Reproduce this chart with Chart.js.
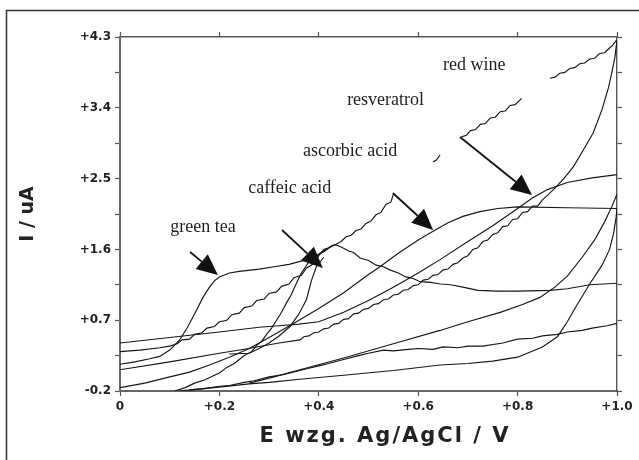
<!DOCTYPE html>
<html lang="en">
<head>
<meta charset="UTF-8">
<title>Cyclic voltammograms</title>
<script src="https://cdn.jsdelivr.net/npm/chart.js"></script>
<style>
  html, body { margin: 0; padding: 0; background: #fff; }
</style>
</head>
<body>
<canvas id="cv" width="639" height="460"></canvas>
<script>
// axis ticks
const xTicks = [0, 0.2, 0.4, 0.6, 0.8, 1.0];
const xTickLabels = ['0', '+0.2', '+0.4', '+0.6', '+0.8', '+1.0'];
const yTicks = [-0.2, 0.25, 0.7, 1.15, 1.6, 2.05, 2.5, 2.95, 3.4, 3.85, 4.3];
const yTickLabels = ['-0.2', '', '+0.7', '', '+1.6', '', '+2.5', '', '+3.4', '', '+4.3'];
const xTitle = 'E wzg. Ag/AgCl / V';
const yTitle = 'I / uA';

// scans as [E (V), I (uA)]
const greenTea = [[0,0.14],[0.03,0.17],[0.06,0.21],[0.08,0.24],[0.1,0.32],[0.12,0.45],[0.135,0.6],[0.15,0.78],
  [0.167,0.99],[0.18,1.12],[0.19,1.2],[0.2,1.25],[0.22,1.3],[0.24,1.32],[0.28,1.35],[0.31,1.38],[0.34,1.41],
  [0.37,1.46],[0.39,1.5],[0.41,1.57],[0.425,1.64],[0.433,1.66],[0.445,1.63],[0.46,1.58],[0.47,1.56],[0.483,1.49],
  [0.5,1.46],[0.515,1.4],[0.53,1.38],[0.543,1.34],[0.56,1.3],[0.575,1.25],[0.59,1.23],[0.604,1.19],[0.625,1.18],
  [0.645,1.16],[0.665,1.15],[0.69,1.12],[0.72,1.08],[0.76,1.07],[0.8,1.07],[0.865,1.08],[0.9,1.1],[0.946,1.15],[1.0,1.17]];

const redWineFwd = [[0,0.30],[0.04,0.32],[0.08,0.35],[0.1,0.37],[0.115,0.4],[0.125,0.45],[0.14,0.46],[0.15,0.52],
  [0.165,0.54],[0.175,0.6],[0.19,0.62],[0.2,0.68],[0.215,0.7],[0.225,0.77],[0.24,0.79],[0.25,0.86],[0.265,0.88],
  [0.275,0.95],[0.29,0.97],[0.3,1.04],[0.315,1.06],[0.325,1.13],[0.34,1.16],[0.35,1.24],[0.365,1.27],[0.375,1.36],
  [0.39,1.42],[0.4,1.52],[0.41,1.6],[0.42,1.62],[0.433,1.66],[0.445,1.7],[0.455,1.76],[0.465,1.78],[0.475,1.84],
  [0.485,1.86],[0.495,1.93],[0.505,1.96],[0.515,2.04],[0.525,2.07],[0.535,2.17],[0.545,2.2],[0.55,2.3],
  [0.59,null],[0.63,2.71],[0.637,2.74],[0.644,2.8],[0.665,null],
  [0.687,3.03],[0.697,3.05],[0.705,3.11],[0.715,3.12],[0.725,3.19],[0.735,3.2],[0.745,3.27],[0.755,3.28],
  [0.765,3.35],[0.775,3.36],[0.785,3.43],[0.795,3.44],[0.808,3.52],[0.835,null],
  [0.865,3.775],[0.875,3.79],[0.885,3.84],[0.895,3.85],[0.905,3.9],[0.915,3.91],[0.925,3.96],[0.935,3.97],
  [0.945,4.02],[0.955,4.03],[0.965,4.09],[0.975,4.1],[0.985,4.16],[0.992,4.2],[0.999,4.26]];

const redWineRev = [[1.0,4.26],[0.996,4.05],[0.99,3.86],[0.983,3.66],[0.97,3.38],[0.952,3.08],[0.932,2.86],
  [0.912,2.65],[0.893,2.5],[0.875,2.38],[0.862,2.3],[0.85,2.23],[0.84,2.15],[0.83,2.15],[0.82,2.08],[0.81,2.07],
  [0.80,1.99],[0.79,1.98],[0.78,1.90],[0.77,1.89],[0.76,1.81],[0.75,1.79],[0.74,1.72],[0.73,1.70],[0.72,1.62],
  [0.71,1.60],[0.70,1.52],[0.69,1.49],[0.68,1.43],[0.67,1.41],[0.66,1.35],[0.65,1.34],[0.64,1.28],[0.63,1.27],
  [0.62,1.22],[0.61,1.21],[0.60,1.15],[0.59,1.14],[0.58,1.09],[0.57,1.08],[0.56,1.03],[0.55,1.02],[0.54,0.97],
  [0.53,0.96],[0.52,0.91],[0.51,0.90],[0.50,0.85],[0.49,0.84],[0.48,0.79],[0.47,0.78],[0.46,0.72],[0.45,0.71],
  [0.44,0.66],[0.43,0.65],[0.42,0.60],[0.41,0.59],[0.40,0.55],[0.39,0.54],[0.38,0.50],[0.37,0.49],[0.362,0.45],
  [0.32,0.41],[0.25,0.33],[0.2,0.28],[0.1,0.17],[0,0.07]];

const resveratrol = [[0,0.41],[0.1,0.48],[0.2,0.55],[0.28,0.61],[0.32,0.63],[0.36,0.65],[0.4,0.68],[0.45,0.8],
  [0.5,0.95],[0.55,1.12],[0.6,1.3],[0.644,1.47],[0.7,1.7],[0.75,1.9],[0.8,2.12],[0.829,2.25],[0.86,2.36],
  [0.9,2.45],[0.95,2.51],[1.0,2.55]];

const ascorbicFwd = [[0,-0.157],[0.05,-0.1],[0.094,-0.03],[0.14,0.04],[0.18,0.13],[0.22,0.23],[0.26,0.34],
  [0.3,0.48],[0.35,0.66],[0.4,0.85],[0.45,1.05],[0.5,1.28],[0.523,1.38],[0.56,1.55],[0.6,1.72],[0.63,1.83],
  [0.66,1.94],[0.69,2.02],[0.724,2.08],[0.76,2.12],[0.8,2.14],[0.9,2.13],[1.0,2.12]];

const ascorbicRev = [[1.0,2.12],[0.998,2.0],[0.993,1.8],[0.985,1.6],[0.97,1.4],[0.946,1.17],[0.92,0.9],
  [0.9,0.68],[0.88,0.49],[0.85,0.36],[0.8,0.23],[0.75,0.18],[0.7,0.15],[0.644,0.13],[0.55,0.06],[0.45,0.0],
  [0.362,-0.05],[0.3,-0.09],[0.26,-0.11],[0.2,-0.15],[0.15,-0.18],[0.12,-0.2]];

const caffeicFwd = [[0.11,-0.2],[0.13,-0.16],[0.15,-0.1],[0.17,-0.06],[0.19,0.0],[0.2,0.03],[0.215,0.1],
  [0.23,0.15],[0.24,0.2],[0.25,0.25],[0.265,0.3],[0.275,0.38],[0.285,0.43],[0.295,0.52],[0.305,0.6],
  [0.315,0.7],[0.325,0.8],[0.335,0.92],[0.345,1.03],[0.355,1.17],[0.365,1.3],[0.38,1.44],[0.395,1.52],
  [0.41,1.58],[0.425,1.64],[0.433,1.66]];

const caffeicRev = [[0.41,1.5],[0.395,1.38],[0.385,1.2],[0.375,0.96],[0.36,0.78],[0.342,0.62],[0.32,0.5],
  [0.3,0.41],[0.28,0.34],[0.26,0.28],[0.22,0.27]];

const baselineNoisy = [[0.14,-0.19],[0.17,-0.17],[0.2,-0.14],[0.22,-0.13],[0.25,-0.09],[0.27,-0.07],[0.3,-0.02],
  [0.33,0.01],[0.362,0.06],[0.38,0.09],[0.4,0.12],[0.42,0.15],[0.45,0.2],[0.48,0.25],[0.5,0.28],[0.53,0.32],
  [0.55,0.31],[0.58,0.33],[0.6,0.34],[0.63,0.33],[0.65,0.36],[0.68,0.35],[0.7,0.37],[0.73,0.37],[0.77,0.41],
  [0.8,0.46],[0.83,0.47],[0.85,0.5],[0.88,0.52],[0.9,0.55],[0.93,0.57],[0.95,0.6],[0.98,0.63],[1.0,0.66]];

const baselineRise = [[0.26,-0.1],[0.31,-0.02],[0.362,0.07],[0.45,0.22],[0.55,0.4],[0.644,0.57],[0.7,0.68],
  [0.765,0.8],[0.81,0.9],[0.845,0.99],[0.875,1.12],[0.9,1.26],[0.93,1.5],[0.955,1.72],[0.975,1.95],
  [0.99,2.15],[1.0,2.3]];

const scans = [greenTea, redWineFwd, redWineRev, resveratrol, ascorbicFwd, ascorbicRev,
  caffeicFwd, caffeicRev, baselineNoisy, baselineRise];

// annotations: sample names and arrows, in data units
const labelText = ['red wine', 'resveratrol', 'ascorbic acid', 'caffeic acid', 'green tea'];
const labelE = [0.65, 0.457, 0.368, 0.258, 0.101];
const labelI = [3.944, 3.499, 2.851, 2.381, 1.885];
const arrowFrom = [[0.684, 3.029], [0.549, 2.317], [0.326, 1.847], [0.141, 1.567]];
const arrowTo = [[0.829, 2.292], [0.63, 1.847], [0.408, 1.364], [0.197, 1.275]];

const tickFont = { family: 'DejaVu Sans', weight: 'bold', size: 12 };
const titleFont = { family: 'DejaVu Sans', weight: 'bold', size: 19 };

const annotate = {
  id: 'annotate',
  afterDatasetsDraw(chart) {
    const { ctx, scales: { x, y } } = chart;
    ctx.save();
    ctx.fillStyle = '#1e1e1e';
    ctx.font = '18px "Liberation Serif", "Times New Roman", serif';
    ctx.textBaseline = 'middle';
    labelText.forEach((t, i) => {
      ctx.fillText(t, x.getPixelForValue(labelE[i]), y.getPixelForValue(labelI[i]));
    });
    ctx.strokeStyle = '#111';
    ctx.fillStyle = '#111';
    ctx.lineWidth = 1.8;
    arrowFrom.forEach((f, i) => {
      const x0 = x.getPixelForValue(f[0]), y0 = y.getPixelForValue(f[1]);
      const x1 = x.getPixelForValue(arrowTo[i][0]), y1 = y.getPixelForValue(arrowTo[i][1]);
      const a = Math.atan2(y1 - y0, x1 - x0);
      const len = 21, half = 9.5;
      const bx = x1 - len * Math.cos(a), by = y1 - len * Math.sin(a);
      ctx.beginPath();
      ctx.moveTo(x0, y0);
      ctx.lineTo(bx, by);
      ctx.stroke();
      ctx.beginPath();
      ctx.moveTo(x1, y1);
      ctx.lineTo(bx + half * Math.sin(a), by - half * Math.cos(a));
      ctx.lineTo(bx - half * Math.sin(a), by + half * Math.cos(a));
      ctx.closePath();
      ctx.fill();
    });
    ctx.restore();
  },
  afterDraw(chart) {
    const { ctx, chartArea } = chart;
    ctx.save();
    // potential axis title, spaced out under the axis
    ctx.fillStyle = '#222';
    ctx.font = 'bold 21px "DejaVu Sans"';
    ctx.letterSpacing = '2px';
    ctx.textAlign = 'center';
    ctx.textBaseline = 'middle';
    ctx.fillText(xTitle, chartArea.left + 265, 437);
    // outer frame of the figure
    ctx.strokeStyle = '#333';
    ctx.lineWidth = 1.5;
    ctx.beginPath();
    ctx.moveTo(6.5, 460);
    ctx.lineTo(6.5, 10.5);
    ctx.lineTo(639, 10.5);
    ctx.stroke();
    ctx.restore();
  }
};

const setTicks = vals => scale => { scale.ticks = vals.map(v => ({ value: v })); };

new Chart(document.getElementById('cv'), {
  type: 'scatter',
  data: {
    datasets: scans.map(s => ({
      data: s.map(p => ({ x: p[0], y: p[1] })),
      showLine: true,
      borderColor: '#161616',
      borderWidth: 1.15,
      pointRadius: 0,
      spanGaps: false
    }))
  },
  options: {
    responsive: false,
    animation: false,
    layout: { padding: { left: 0, right: 22, top: 37, bottom: 0 } },
    plugins: { legend: { display: false }, tooltip: { enabled: false } },
    scales: {
      x: {
        type: 'linear', position: 'bottom', min: 0, max: 1,
        afterBuildTicks: setTicks(xTicks),
        afterFit: s => { s.height = 69; },
        ticks: { autoSkip: false, maxRotation: 0, padding: 4, color: '#222', font: tickFont,
                 callback: (v, i) => xTickLabels[i] },
        grid: { drawOnChartArea: false, tickLength: 5, tickColor: '#555', tickWidth: 1.2 },
        border: { display: true, color: '#666', width: 2 }
      },
      xTop: {
        type: 'linear', position: 'top', min: 0, max: 1,
        afterBuildTicks: setTicks(xTicks),
        afterFit: s => { s.height = 0; },
        ticks: { display: false },
        grid: { drawOnChartArea: false, tickLength: 5, tickColor: '#555', tickWidth: 1.2 },
        border: { display: true, color: '#555', width: 1.4 }
      },
      y: {
        type: 'linear', position: 'left', min: -0.2, max: 4.3,
        afterBuildTicks: setTicks(yTicks),
        afterFit: s => { s.width = 120; },
        ticks: { autoSkip: false, padding: 4, color: '#222', font: tickFont,
                 callback: (v, i) => yTickLabels[i] },
        grid: { drawOnChartArea: false, tickLength: 5, tickColor: '#555', tickWidth: 1.2 },
        border: { display: true, color: '#666', width: 2 },
        title: { display: true, text: yTitle, color: '#222', font: titleFont,
                 padding: { top: 17, bottom: 0 } }
      },
      yRight: {
        type: 'linear', position: 'right', min: -0.2, max: 4.3,
        afterBuildTicks: setTicks(yTicks),
        afterFit: s => { s.width = 0; },
        ticks: { display: false },
        grid: { drawOnChartArea: false, tickLength: 5, tickColor: '#555', tickWidth: 1.2 },
        border: { display: true, color: '#555', width: 1.4 }
      }
    }
  },
  plugins: [annotate]
});
</script>
</body>
</html>
